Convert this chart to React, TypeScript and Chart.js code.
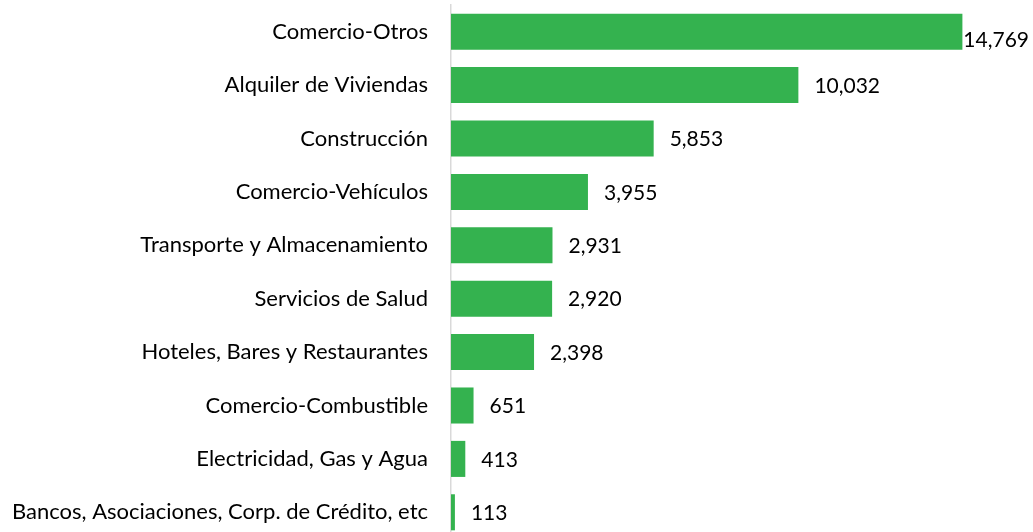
import React, { useEffect, useRef } from "react";
import { Chart, registerables } from "chart.js";

Chart.register(...registerables);

const categories: string[] = [
  "Comercio-Otros",
  "Alquiler de Viviendas",
  "Construcción",
  "Comercio-Vehículos",
  "Transporte y Almacenamiento",
  "Servicios de Salud",
  "Hoteles, Bares y Restaurantes",
  "Comercio-Combustible",
  "Electricidad, Gas y Agua",
  "Bancos, Asociaciones, Corp. de Crédito, etc",
];

const values: number[] = [14769, 10032, 5853, 3955, 2931, 2920, 2398, 651, 413, 113];

const BAR_COLOR = "#34B24F";
const FONT_FAMILY = "Lato, 'Open Sans', sans-serif";

const valueLabels = {
  id: "valueLabels",
  afterDatasetsDraw(chart: any) {
    const ctx = chart.ctx;
    const meta = chart.getDatasetMeta(0);
    const area = chart.chartArea;
    ctx.save();
    ctx.font = `21px ${FONT_FAMILY}`;
    ctx.fillStyle = "#000000";
    ctx.textBaseline = "middle";
    ctx.textAlign = "left";
    meta.data.forEach((bar: any, i: number) => {
      const text = values[i].toLocaleString("en-US");
      const w = ctx.measureText(text).width;
      let x = bar.x + 16;
      let y = bar.y;
      if (x + w > area.right - 2) {
        x = Math.max(bar.x, area.right - 2 - w);
        y = bar.y + 8;
      }
      ctx.fillText(text, x, y + 1);
    });
    ctx.restore();
  },
};

export default function App() {
  const ref = useRef<HTMLCanvasElement | null>(null);

  useEffect(() => {
    if (!ref.current) return;
    const chart = new Chart(ref.current, {
      type: "bar",
      data: {
        labels: categories,
        datasets: [
          {
            data: values,
            backgroundColor: BAR_COLOR,
            borderWidth: 0,
            barPercentage: 0.675,
            categoryPercentage: 1,
          },
        ],
      },
      options: {
        indexAxis: "y",
        responsive: false,
        animation: false,
        layout: { padding: { top: 5, bottom: 1, right: 2, left: 0 } },
        plugins: {
          legend: { display: false },
          tooltip: { enabled: false },
        },
        scales: {
          x: {
            display: false,
            min: 0,
            max: 16750,
          },
          y: {
            afterFit: (scale: any) => {
              scale.width = 451;
              scale.paddingTop = 0;
              scale.paddingBottom = 0;
            },
            grid: { display: false, drawTicks: false },
            border: { display: true, color: "#D9D9D9", width: 1.5 },
            ticks: {
              padding: 23,
              color: "#000000",
              font: { family: FONT_FAMILY, size: 22 },
            },
          },
        },
      },
      plugins: [valueLabels],
    });
    return () => chart.destroy();
  }, []);

  return (
    <div
      style={{
        position: "absolute",
        left: 0,
        top: 0,
        width: 1033,
        height: 532,
        overflow: "hidden",
        background: "#ffffff",
      }}
    >
      <canvas ref={ref} width={1033} height={540} style={{ display: "block" }} />
    </div>
  );
}
